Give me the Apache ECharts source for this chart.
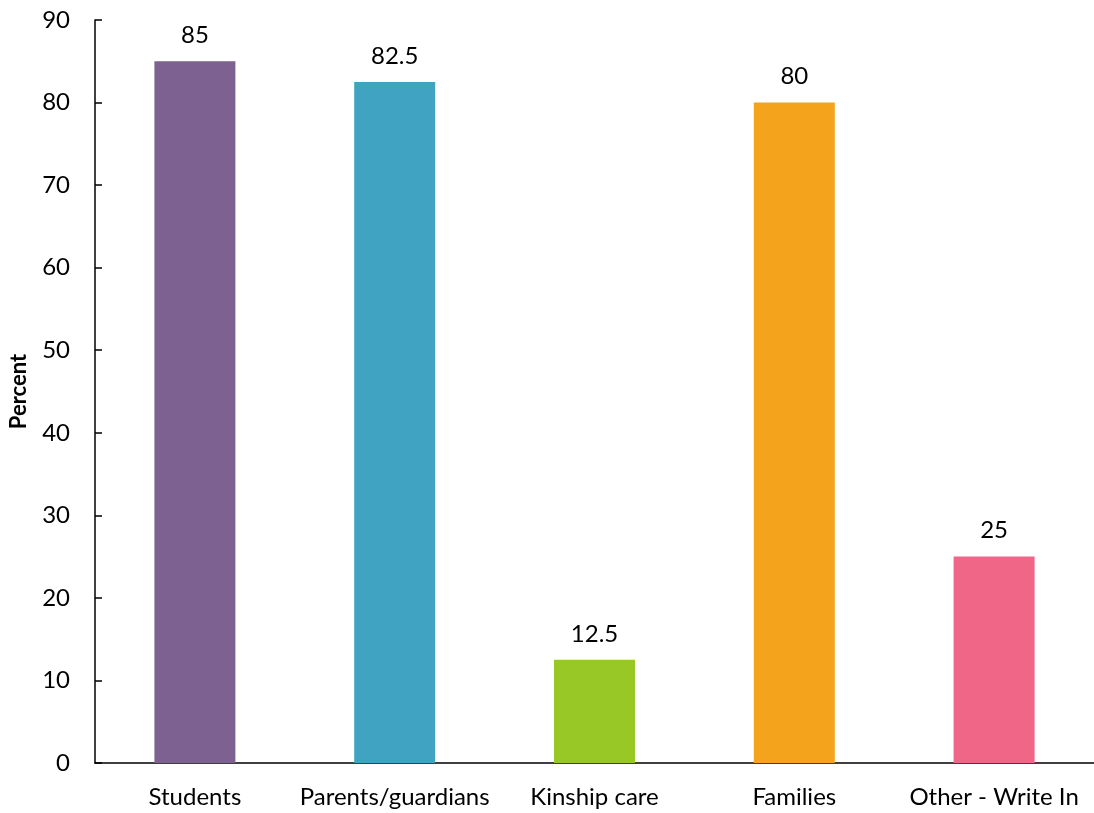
<!DOCTYPE html>
<html><head><meta charset="utf-8">
<script src="https://cdn.jsdelivr.net/npm/echarts@6/dist/echarts.min.js"></script>
<style>html,body{margin:0;padding:0;background:#fff}#c{width:1094px;height:813px}</style>
</head><body><div id="c"></div>
<script>
const categories = ["Students", "Parents/guardians", "Kinship care", "Families", "Other - Write In"];
const values = [85, 82.5, 12.5, 80, 25];
const colors = ["#7D6190", "#40A3C2", "#97C825", "#F4A31C", "#EF6687"];
const yTicks = {min: 0, max: 90, interval: 10};
const FONT = "Lato";
const chart = echarts.init(document.getElementById('c'), null, {renderer: 'canvas'});
chart.setOption({
  animation: false,
  grid: {left: 95, top: 20, right: 0, bottom: 50, containLabel: false, outerBoundsMode: 'none'},
  xAxis: {
    type: 'category', data: categories,
    axisLine: {lineStyle: {color: '#000', width: 1.5}},
    axisTick: {inside: true, length: 7, lineStyle: {color: '#000', width: 1.5}},
    axisLabel: {color: '#000', fontSize: 24, fontFamily: FONT, margin: 22, interval: 0}
  },
  yAxis: {
    type: 'value', min: yTicks.min, max: yTicks.max, interval: yTicks.interval,
    name: 'Percent', nameLocation: 'middle', nameGap: 65,
    nameTextStyle: {color: '#000', fontSize: 22, fontWeight: 'bold', fontFamily: FONT},
    axisLine: {show: true, lineStyle: {color: '#000', width: 1.5}},
    axisTick: {show: true, inside: true, length: 7, lineStyle: {color: '#000', width: 1.5}},
    axisLabel: {color: '#000', fontSize: 24, fontFamily: FONT, margin: 25},
    splitLine: {show: false}
  },
  series: [{
    type: 'bar', barWidth: 81,
    data: values.map((v, i) => ({value: v, itemStyle: {color: colors[i]}})),
    label: {show: true, position: 'top', distance: 14, color: '#000', fontSize: 24, fontFamily: FONT}
  }]
});
</script></body></html>
